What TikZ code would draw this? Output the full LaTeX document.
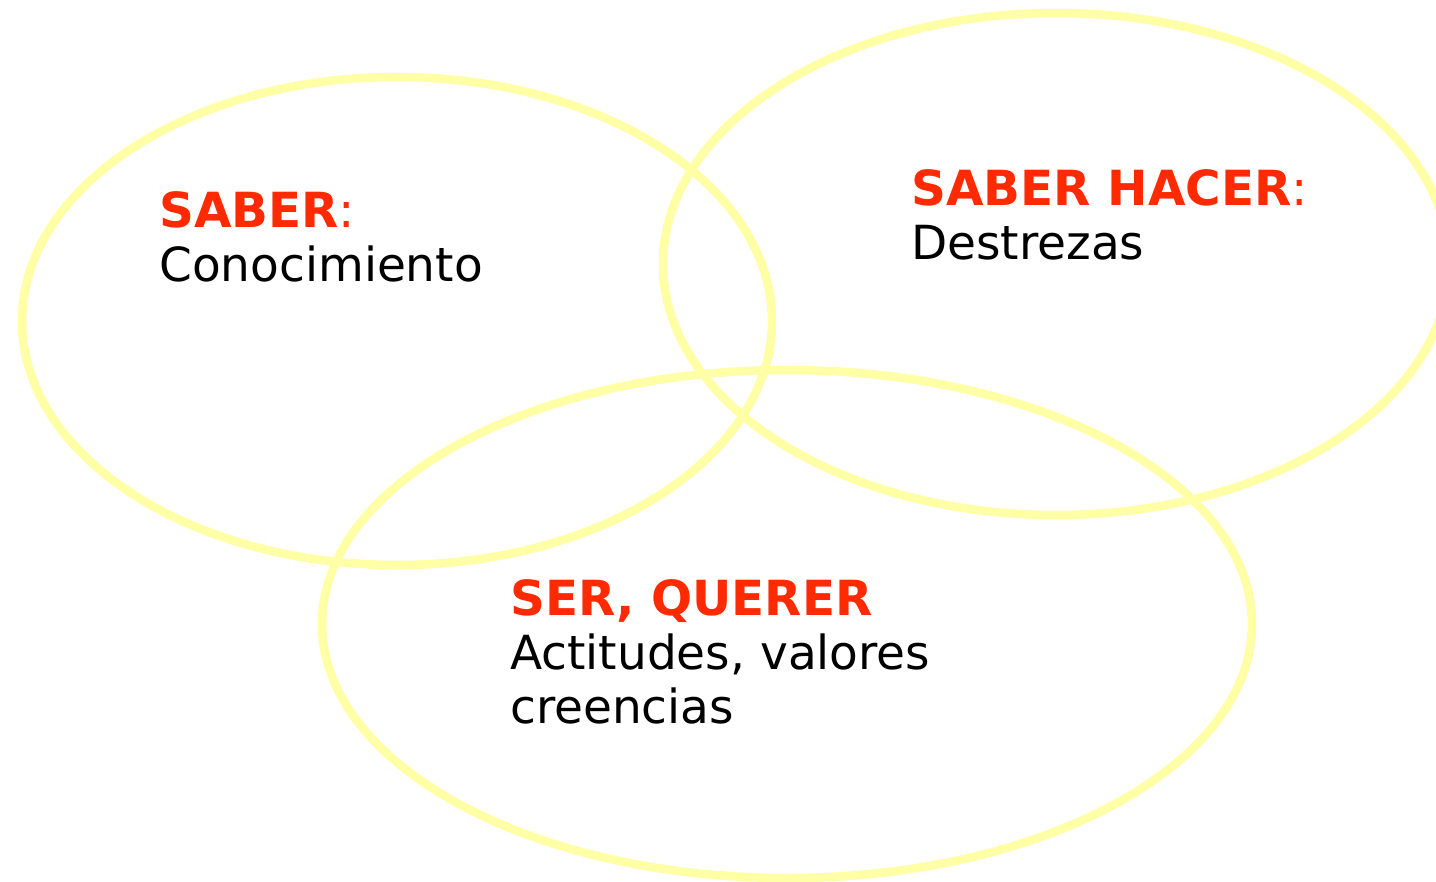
\documentclass[tikz,border=0pt]{standalone}
\usepackage{fontspec}
\setmainfont{DejaVu Sans}
\definecolor{ringyellow}{RGB}{255,255,165}
\definecolor{titlered}{RGB}{255,42,0}
\begin{document}
\begin{tikzpicture}[x=1pt,y=-1pt,
  ring/.style={draw=ringyellow,line width=8.5pt},
  title/.style={anchor=base west,inner sep=0pt,text=titlered,font=\fontsize{48.4}{55}\selectfont\bfseries},
  body/.style={anchor=base west,inner sep=0pt,font=\fontsize{47}{55}\selectfont}]
\useasboundingbox (0,0) rectangle (1436,882);
\begin{scope}
\clip (0,0) rectangle (1436,882);
\draw[ring] (397,321) ellipse [x radius=375, y radius=244];
\draw[ring] (1056,264) ellipse [x radius=393, y radius=251];
\draw[ring] (787,624) ellipse [x radius=465, y radius=254];
\end{scope}
\node[title] (saber) at (159,228) {SABER\textmd{:}};
\node[body] (saberbody) at (159,282) {Conocimiento};
\node[title] (hacer) at (911,206) {SABER HACER\textmd{:}};
\node[body] (hacerbody) at (911,260) {Destrezas};
\node[title] (ser) at (510,615) {SER, QUERER};
\node[body] (serbody1) at (510,669) {Actitudes, valores};
\node[body] (serbody2) at (510,723) {creencias};
\end{tikzpicture}
\end{document}
